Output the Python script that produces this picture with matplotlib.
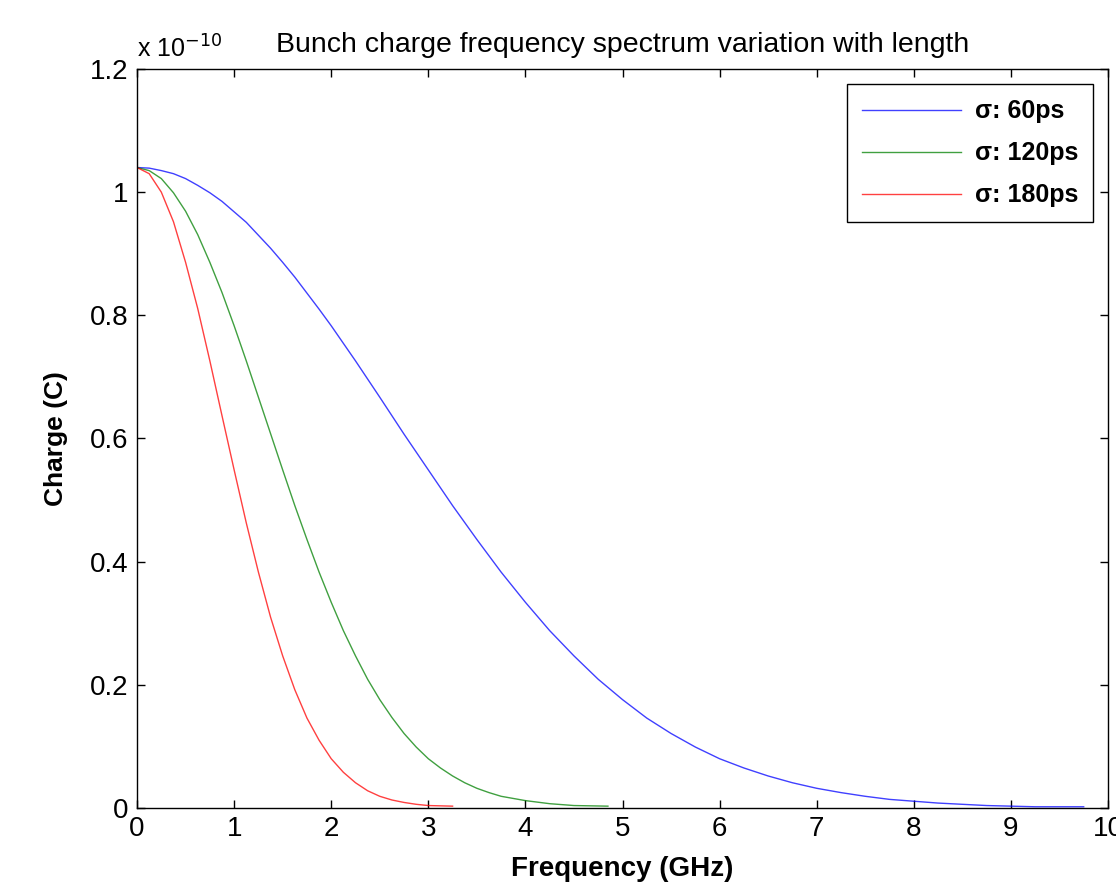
import numpy as np
from matplotlib import pyplot as plt

# Values (charge in units of 1e-10 C, frequency in GHz)
f_60 = [0, 0.125, 0.25, 0.375, 0.5, 0.625, 0.75, 0.875, 1.0, 1.125, 1.25, 1.375,
        1.5, 1.625, 1.75, 1.875, 2.0, 2.25, 2.5, 2.75, 3.0, 3.25,
        3.5, 3.75, 4.0, 4.25, 4.5, 4.75, 5.0, 5.25, 5.5, 5.75, 6.0, 6.25, 6.5,
        6.75, 7.0, 7.25, 7.5, 7.75, 8.0, 8.25, 8.5, 8.75, 9.0, 9.25, 9.5, 9.75]
q_60 = [1.040, 1.039, 1.035, 1.030, 1.022, 1.011, 0.999, 0.985, 0.968, 0.951,
        0.930, 0.909, 0.886, 0.862, 0.836, 0.810, 0.783, 0.726,
        0.667, 0.607, 0.549, 0.491, 0.436, 0.383, 0.334, 0.288, 0.247, 0.209,
        0.176, 0.146, 0.121, 0.099, 0.080, 0.065, 0.052, 0.041, 0.032, 0.025,
        0.019, 0.014, 0.011, 0.008, 0.006, 0.004, 0.003, 0.002, 0.002, 0.002]

f_120 = [0, 0.125, 0.25, 0.375, 0.5, 0.625, 0.75, 0.875, 1.0, 1.125, 1.25,
         1.375, 1.5, 1.625, 1.75, 1.875, 2.0, 2.125, 2.25, 2.375, 2.5, 2.625,
         2.75, 2.875, 3.0, 3.125, 3.25, 3.375, 3.5, 3.625, 3.75, 4.0, 4.25,
         4.5, 4.85]
q_120 = [1.040, 1.035, 1.022, 0.999, 0.969, 0.931, 0.886, 0.837, 0.783, 0.726,
         0.667, 0.608, 0.549, 0.491, 0.436, 0.383, 0.334, 0.288, 0.247, 0.209,
         0.176, 0.147, 0.121, 0.099, 0.080, 0.065, 0.052, 0.041, 0.032, 0.025,
         0.019, 0.012, 0.007, 0.004, 0.003]

f_180 = [0, 0.125, 0.25, 0.375, 0.5, 0.625, 0.75, 0.875, 1.0, 1.125, 1.25,
         1.375, 1.5, 1.625, 1.75, 1.875, 2.0, 2.125, 2.25, 2.375, 2.5, 2.625,
         2.75, 2.875, 3.0, 3.25]
q_180 = [1.040, 1.030, 1.000, 0.952, 0.886, 0.811, 0.726, 0.637, 0.549, 0.463,
         0.383, 0.310, 0.247, 0.192, 0.146, 0.110, 0.080, 0.058, 0.041, 0.028,
         0.019, 0.013, 0.009, 0.006, 0.004, 0.003]

labels = ['\u03c3: 60ps', '\u03c3: 120ps', '\u03c3: 180ps']
colors = ['#0000ff', '#008000', '#ff0000']
x_ticks = np.arange(0, 11, 1)
y_ticks = [0, 0.2, 0.4, 0.6, 0.8, 1, 1.2]
y_tick_labels = ['0', '0.2', '0.4', '0.6', '0.8', '1', '1.2']

plt.rcParams['font.family'] = ['Liberation Sans', 'DejaVu Sans']

fig = plt.figure(figsize=(11.16, 8.82), dpi=100)
ax = fig.add_axes([0.1228, 0.0839, 0.870, 0.8379])

for f, q, lab, c in zip([f_60, f_120, f_180], [q_60, q_120, q_180], labels, colors):
    ax.plot(f, q, '-', color=c, lw=1.0, alpha=0.75, label=lab)

ax.set_xlim(0, 10)
ax.set_ylim(0, 1.2)
ax.set_xticks(x_ticks)
ax.set_yticks(y_ticks)
ax.set_yticklabels(y_tick_labels)
ax.tick_params(direction='in', top=True, right=True, length=6, width=1,
               labelsize=20, pad=6)
for s in ax.spines.values():
    s.set_linewidth(1.0)

ax.set_title('Bunch charge frequency spectrum variation with length',
             fontsize=20.5, pad=12)
ax.set_xlabel('Frequency (GHz)', fontsize=20, fontweight='bold', labelpad=10)
ax.set_ylabel('Charge (C)', fontsize=19, fontweight='bold', labelpad=16)
ax.text(0.0, 1.008, 'x 10$^{-10}$', transform=ax.transAxes, fontsize=18,
        ha='left', va='bottom')

leg = ax.legend(loc='upper right', bbox_to_anchor=(0.9846, 0.979),
                borderaxespad=0, prop={'weight': 'bold', 'size': 18},
                handlelength=3.95, handletextpad=0.55, labelspacing=0.72,
                borderpad=0.6, fancybox=False, framealpha=1, edgecolor='black')
leg.get_frame().set_linewidth(1.0)

fig.savefig('out.png', dpi=100)
